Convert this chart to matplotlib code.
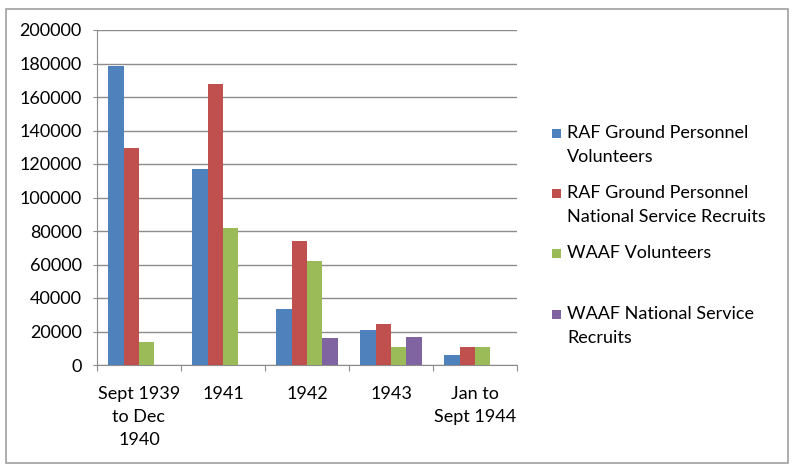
import matplotlib
matplotlib.use("Agg")
import matplotlib.pyplot as plt
import numpy as np
from matplotlib.patches import Rectangle

plt.rcParams["font.family"] = ["Lato", "DejaVu Sans"]

categories = ["Sept 1939\nto Dec\n1940", "1941", "1942", "1943", "Jan to\nSept 1944"]
series_names = [
    "RAF Ground Personnel\nVolunteers",
    "RAF Ground Personnel\nNational Service Recruits",
    "WAAF Volunteers",
    "WAAF National Service\nRecruits",
]
raf_volunteers = [178600, 117000, 33200, 20600, 6000]
raf_national_service = [129400, 168000, 74300, 24200, 10800]
waaf_volunteers = [14000, 81500, 61900, 11000, 10800]
waaf_national_service = [0, 0, 16000, 17000, 0]
colors = ["#4F81BD", "#C0504D", "#9BBB59", "#8064A2"]

series = [raf_volunteers, raf_national_service, waaf_volunteers, waaf_national_service]

fig = plt.figure(figsize=(7.99, 4.74), dpi=100)
W, H = 799, 474

# outer chart border
fig.patches.append(Rectangle((6 / W, 1 - 463 / H), (788 - 6) / W, (463 - 9) / H,
                             transform=fig.transFigure, fill=False,
                             edgecolor="#A0A0A0", linewidth=1.2))

ax = fig.add_axes([97 / W, 1 - 365 / H, (517 - 97) / W, (365 - 30) / H])

x = np.arange(len(categories))
bw = 1 / 5.5
for i, (vals, c) in enumerate(zip(series, colors)):
    ax.bar(x + (i - 1.5) * bw, vals, width=bw, color=c, zorder=3)

ax.set_xlim(-0.5, len(categories) - 0.5)
ax.set_ylim(0, 200000)
ax.set_yticks(np.arange(0, 200001, 20000))
ax.yaxis.grid(True, color="#8C8C8C", linewidth=1.0, zorder=0)
for s in ["top", "right"]:
    ax.spines[s].set_visible(False)
for s in ["left", "bottom"]:
    ax.spines[s].set_color("#8C8C8C")
ax.tick_params(axis="y", length=3, color="#8C8C8C", labelsize=13, pad=8)

ax.set_xticks(np.arange(-0.5, len(categories)))
ax.set_xticklabels([])
ax.set_xticks(x, minor=True)
ax.set_xticklabels(categories, minor=True, fontsize=13, linespacing=1.55)
ax.tick_params(axis="x", which="major", length=4, color="#8C8C8C")
ax.tick_params(axis="x", which="minor", length=0, pad=15)

# legend
legend_y = [133, 193, 253, 314]
for name, c, ly in zip(series_names, colors, legend_y):
    fig.patches.append(Rectangle((552 / W, 1 - (ly + 5) / H), 9 / W, 9 / H,
                                 transform=fig.transFigure, facecolor=c, edgecolor="none"))
    fig.text(567 / W, 1 - (ly - 8) / H, name, fontsize=13, va="top", ha="left",
             linespacing=1.65)

fig.savefig("out.png", dpi=100)
